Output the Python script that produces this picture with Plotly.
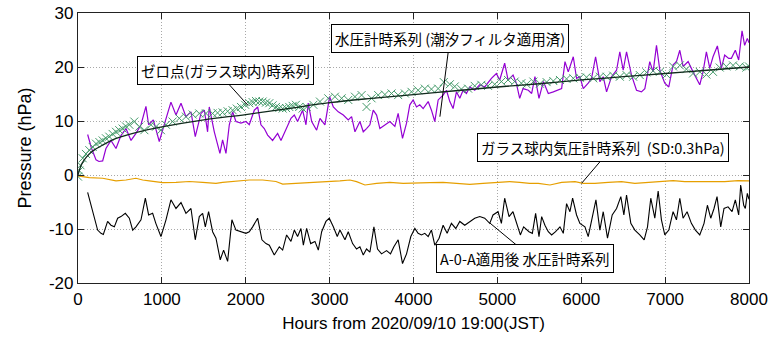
import plotly.graph_objects as go

# ---- data ----
purple_h = [115,160,215,250,294,333,393,453,512,572,632,691,751,810,842,898,969,1029,1108,1168,1228,1287,1347,1398,1466,1506,1545,1565,1625,1692,1724,1764,1804,1843,1883,1943,2002,2042,2102,2142,2181,2221,2261,2320,2380,2420,2480,2539,2579,2618,2678,2718,2745,2786,2845,2885,2944,3000,3044,3103,3163,3222,3262,3302,3361,3401,3440,3480,3520,3560,3599,3659,3718,3778,3817,3869,3917,3956,3996,4036,4075,4115,4175,4214,4254,4294,4353,4393,4433,4472,4512,4552,4591,4631,4671,4730,4790,4849,4929,4988,5028,5087,5127,5187,5226,5266,5306,5369,5409,5448,5496,5548,5607,5667,5726,5766,5806,5845,5905,5944,5984,6024,6083,6123,6171,6222,6262,6302,6361,6421,6460,6500,6540,6599,6659,6718,6758,6817,6857,6897,6937,6996,7044,7095,7135,7175,7214,7274,7333,7413,7452,7492,7532,7571,7623,7671,7710,7758,7790,7837,7877,7917,7948,7980,8000]
purple_v = [7.5,5.0,2.8,2.5,2.6,4.9,6.4,4.9,7.3,8.6,6.4,7.7,9.3,12.7,9.3,10.2,6.2,9.3,13.5,11.1,13.3,10.8,11.7,7.1,11.4,12.0,8.0,12.6,8.0,4.0,6.5,4.0,9.3,11.7,9.9,9.6,9.9,9.3,12.0,12.6,9.3,8.6,7.4,6.4,7.7,6.4,8.6,10.5,11.1,9.9,12.0,9.3,13.3,9.9,8.3,10.5,9.3,14.5,12.6,11.7,11.1,10.2,10.8,8.0,9.9,8.0,8.6,9.3,12.0,11.1,8.6,9.3,9.9,9.0,11.4,6.8,9.6,13.0,13.9,12.6,13.0,12.3,13.6,12.0,9.9,13.9,14.8,15.7,13.6,12.3,15.4,14.2,15.7,15.1,16.3,15.7,16.7,16.3,17.9,18.8,17.6,20.7,17.6,18.5,17.0,14.2,16.0,15.7,15.1,18.2,14.2,17.3,15.1,15.4,15.7,16.0,21.0,19.1,21.9,17.9,18.2,16.0,17.0,17.9,21.9,17.3,18.2,15.4,18.2,19.4,22.8,19.4,22.8,18.5,15.7,15.4,16.0,21.0,19.1,24.0,19.4,17.0,16.3,20.4,21.0,23.1,20.1,21.0,19.1,16.7,19.1,22.8,19.8,21.9,23.9,19.8,22.2,21.6,21.6,23.1,21.3,26.7,24.0,25.3,24.5]

zero_h = [0,15,30,56,95,135,175,215,255,294,333,373,413,453,492,532,572,612,671,731,791,870,930,989,1049,1128,1208,1287,1367,1446,1526,1605,1664,1724,1784,1843,1893,1943,1993,2042,2082,2122,2162,2201,2241,2281,2320,2360,2400,2440,2480,2519,2559,2598,2638,2678,2726,2806,2885,2984,3063,3143,3222,3302,3381,3440,3500,3579,3659,3738,3817,3897,3976,4055,4135,4214,4294,4361,4433,4492,4571,4651,4730,4809,4889,4968,5048,5127,5206,5286,5349,5429,5508,5587,5667,5746,5825,5905,5984,6063,6143,6222,6302,6381,6460,6540,6619,6698,6778,6857,6937,7016,7095,7175,7254,7333,7413,7492,7571,7651,7730,7810,7889,7968,8000]
zero_v = [-0.3,0.8,1.8,3.1,3.9,4.6,5.2,5.8,6.1,6.4,6.8,7.1,7.6,8.0,8.3,8.6,9.0,9.3,9.9,8.95,8.3,9.3,8.95,8.3,9.3,9.9,10.5,10.8,11.2,11.4,11.4,11.4,11.5,11.6,11.8,12.0,12.3,12.6,13.0,13.3,13.5,13.7,13.6,13.6,13.4,13.3,12.9,12.6,12.4,12.3,12.4,12.6,12.8,13.0,12.6,12.3,12.6,13.0,13.6,14.2,14.5,14.2,13.9,14.5,14.8,12.6,14.2,14.8,14.9,15.1,14.8,15.1,15.4,15.7,16.0,15.9,16.0,17.2,16.8,16.4,15.9,16.0,16.5,16.7,16.5,16.8,17.3,17.6,17.3,17.0,16.8,17.3,16.9,17.2,17.4,17.6,17.8,17.9,18.0,18.1,17.9,18.2,18.2,18.4,18.2,18.5,18.2,18.5,19.0,19.3,19.1,18.6,20.1,20.3,19.6,18.8,19.1,18.6,19.1,19.9,20.1,20.3,20.1,19.9,20.1]

fit_h = [0,25,50,100,150,200,300,400,500,700,1000,1500,2000,2500,3000,3500,4000,4500,5000,5500,6000,6500,7000,7500,8000]
fit_v = [0.0,1.3,2.2,3.3,4.1,4.7,5.6,6.4,7.0,7.9,8.9,10.2,11.2,12.3,13.4,14.2,14.9,15.6,16.3,16.9,17.6,18.2,18.8,19.4,20.0]

glass_h = [0,16,135,294,453,572,691,771,850,1009,1168,1327,1486,1645,1724,1883,2042,2201,2360,2440,2559,2647,2806,2964,3123,3242,3321,3421,3560,3718,3877,4036,4194,4353,4512,4671,4829,4988,5147,5266,5385,5488,5627,5766,5925,6024,6163,6321,6480,6639,6798,6956,7095,7234,7393,7551,7710,7869,8000]
glass_v = [-0.1,-0.2,-0.5,-0.6,-1.1,-0.93,-0.6,-0.93,-1.1,-1.4,-1.36,-1.2,-1.36,-1.54,-1.36,-1.1,-0.93,-0.93,-1.2,-1.67,-1.54,-1.54,-1.36,-1.23,-1.1,-0.93,-1.23,-1.85,-1.54,-1.36,-1.54,-1.54,-1.42,-1.36,-1.54,-1.73,-1.54,-1.36,-1.23,-1.36,-1.54,-1.54,-1.85,-1.36,-1.23,-1.54,-1.54,-1.36,-1.23,-1.54,-1.36,-1.23,-1.05,-1.23,-1.23,-1.23,-1.23,-1.05,-1.1]

a0a_h = [115,155,195,234,274,302,353,393,433,473,512,564,612,652,691,751,803,842,890,929,989,1049,1108,1168,1228,1287,1347,1398,1446,1486,1518,1557,1605,1645,1696,1736,1784,1835,1883,1943,2002,2042,2082,2142,2193,2241,2281,2340,2400,2440,2487,2539,2579,2618,2658,2687,2726,2774,2825,2865,2905,2956,2996,3044,3091,3123,3183,3222,3274,3321,3361,3401,3440,3480,3528,3571,3619,3679,3726,3766,3817,3869,3917,3968,4016,4055,4095,4135,4175,4214,4254,4305,4353,4401,4452,4504,4552,4611,4671,4730,4790,4849,4909,4948,5008,5048,5087,5139,5186,5234,5274,5313,5377,5417,5456,5496,5528,5567,5607,5647,5694,5746,5786,5825,5865,5897,5944,5984,6044,6083,6123,6175,6222,6262,6313,6369,6421,6472,6508,6540,6591,6639,6698,6750,6790,6829,6877,6917,6956,6996,7044,7095,7135,7175,7214,7262,7313,7361,7413,7464,7504,7544,7583,7619,7663,7702,7750,7798,7837,7877,7901,7937,7956,7980,8000]
a0a_v = [-3.2,-5.5,-8.0,-10.2,-10.8,-11.0,-8.6,-9.3,-9.6,-8.0,-7.7,-7.1,-8.0,-10.2,-9.6,-8.3,-4.3,-7.4,-7.1,-9.0,-11.4,-8.3,-4.6,-6.2,-5.1,-7.1,-6.2,-12.0,-7.7,-7.1,-9.6,-6.8,-10.5,-11.7,-15.7,-13.9,-16.0,-8.3,-10.2,-10.5,-10.8,-10.5,-9.6,-8.0,-12.0,-12.7,-13.0,-14.8,-13.3,-13.9,-11.1,-12.3,-10.2,-11.4,-9.9,-13.0,-9.9,-12.7,-12.3,-13.9,-10.5,-8.6,-8.0,-9.6,-11.4,-10.2,-12.0,-10.5,-12.7,-13.7,-13.3,-14.8,-13.7,-14.3,-9.6,-13.7,-14.6,-14.0,-14.6,-13.3,-12.0,-16.4,-14.6,-11.4,-9.9,-10.8,-11.1,-10.8,-11.4,-10.2,-13.0,-11.7,-9.3,-10.8,-8.95,-9.9,-8.6,-9.3,-8.6,-8.0,-7.7,-8.0,-8.95,-7.4,-6.8,-8.95,-4.3,-7.7,-6.8,-8.95,-11.1,-9.6,-10.5,-10.8,-7.1,-11.4,-7.7,-9.3,-10.5,-11.1,-10.5,-9.6,-10.8,-5.3,-6.8,-4.3,-7.4,-8.95,-9.6,-11.4,-8.3,-4.6,-10.2,-6.8,-11.7,-7.4,-6.2,-4.0,-7.4,-3.7,-8.95,-10.2,-11.1,-12.0,-9.6,-4.3,-8.0,-2.96,-8.3,-11.1,-10.2,-6.8,-8.3,-4.3,-8.0,-6.8,-8.95,-10.2,-11.1,-8.95,-5.6,-8.0,-6.2,-4.0,-9.6,-6.2,-5.9,-6.8,-4.6,-7.4,-1.85,-5.6,-6.2,-3.4,-4.5]

x_ticks = [0, 1000, 2000, 3000, 4000, 5000, 6000, 7000, 8000]
y_ticks = [-20, -10, 0, 10, 20, 30]

labels = ["ゼロ点(ガラス球内)時系列", "水圧計時系列 (潮汐フィルタ適用済)",
          "ガラス球内気圧計時系列  (SD:0.3hPa)", "A-0-A適用後 水圧計時系列"]

# ---- figure ----
fig = go.Figure()
fig.add_trace(go.Scatter(x=purple_h, y=purple_v, mode="lines",
                         line=dict(color="#9400d3", width=1.2), showlegend=False))
fig.add_trace(go.Scatter(x=zero_h, y=zero_v, mode="markers",
                         marker=dict(symbol="x-thin", size=8, color="#449a6a",
                                     line=dict(color="#449a6a", width=1)),
                         showlegend=False))
fig.add_trace(go.Scatter(x=fit_h, y=fit_v, mode="lines", line_shape="spline",
                         line=dict(color="#102a1c", width=1.3), showlegend=False))
fig.add_trace(go.Scatter(x=glass_h, y=glass_v, mode="lines",
                         line=dict(color="#e69f00", width=1.2), showlegend=False))
fig.add_trace(go.Scatter(x=a0a_h, y=a0a_v, mode="lines",
                         line=dict(color="#000000", width=1.1), showlegend=False))

# leader lines (annotation positions)
leaders = [((1776, 17.2), (2026, 12.9)),
           ((4414, 22.8), (4315, 10.8)),
           ((6242, 2.8), (6004, -1.54)),
           ((4911, -8.9), (5230, -13.0))]
for (x0, y0), (x1, y1) in leaders:
    fig.add_shape(type="line", xref="x", yref="y", x0=x0, y0=y0, x1=x1, y1=y1,
                  line=dict(color="black", width=1))

label_pos = [(1758, 19.3), (4434, 25.3), (6257, 5.1), (5328, -15.4)]
for txt, (lx, ly) in zip(labels, label_pos):
    fig.add_annotation(x=lx, y=ly, xref="x", yref="y", text=txt, showarrow=False,
                       font=dict(family="Noto Sans CJK JP", size=14.5, color="black"),
                       bgcolor="white", bordercolor="black", borderwidth=1, borderpad=3)

axis_common = dict(showline=True, linecolor="#222222", linewidth=1.2, mirror="ticks",
                   ticks="inside", ticklen=6, tickcolor="#222222",
                   showgrid=True, gridcolor="#a8a8a8", griddash="1px,2px", gridwidth=1,
                   zeroline=False, automargin=False,
                   tickfont=dict(family="Liberation Sans", size=17, color="black"))

fig.update_xaxes(range=[0, 8000], tickvals=x_ticks, ticktext=[str(t) for t in x_ticks],
                 title=dict(text="Hours from 2020/09/10 19:00(JST)", standoff=9,
                            font=dict(family="Liberation Sans", size=17, color="black")),
                 **axis_common)
fig.update_yaxes(range=[-20, 30], tickvals=y_ticks, ticktext=[str(t) for t in y_ticks],
                 title=dict(text="Pressure (hPa)", standoff=12,
                            font=dict(family="Liberation Sans", size=18, color="black")),
                 **axis_common)

fig.update_layout(width=774, height=342, margin=dict(l=78, r=25, t=13, b=59),
                  plot_bgcolor="white", paper_bgcolor="white")

fig.write_html("out.html", config={"displayModeBar": False},
               post_script="document.body.style.margin='0';document.body.style.padding='0';")
